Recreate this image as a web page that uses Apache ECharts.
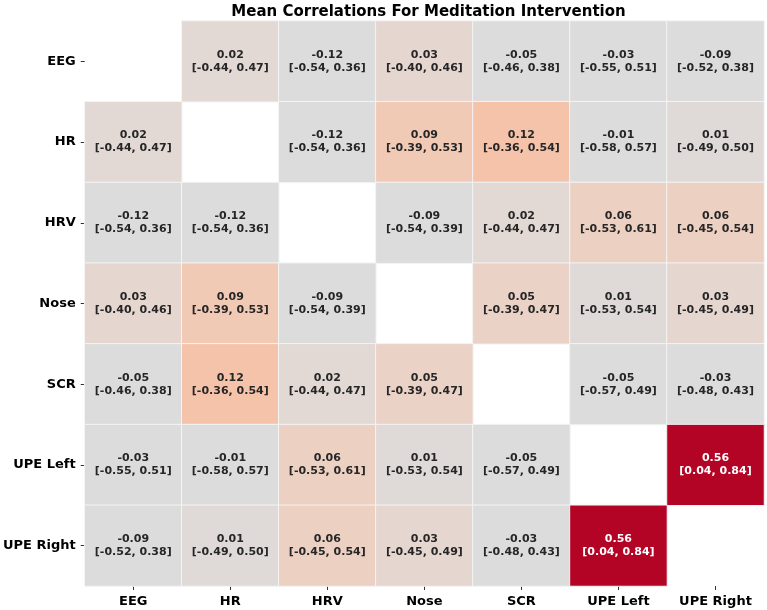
<!DOCTYPE html>
<html>
<head>
<meta charset="utf-8">
<script src="https://cdn.jsdelivr.net/npm/echarts@6/dist/echarts.min.js"></script>
<style>html,body{margin:0;padding:0;background:#fff;}#chart{width:767px;height:610px;}</style>
</head>
<body>
<div id="chart"></div>
<script>
var categories = ["EEG", "HR", "HRV", "Nose", "SCR", "UPE Left", "UPE Right"];
// mean correlations (null on diagonal)
var meanValues = [
  [null, 0.02, -0.12, 0.03, -0.05, -0.03, -0.09],
  [0.02, null, -0.12, 0.09, 0.12, -0.01, 0.01],
  [-0.12, -0.12, null, -0.09, 0.02, 0.06, 0.06],
  [0.03, 0.09, -0.09, null, 0.05, 0.01, 0.03],
  [-0.05, 0.12, 0.02, 0.05, null, -0.05, -0.03],
  [-0.03, -0.01, 0.06, 0.01, -0.05, null, 0.56],
  [-0.09, 0.01, 0.06, 0.03, -0.03, 0.56, null]
];
var ciLow = [
  [null, -0.44, -0.54, -0.40, -0.46, -0.55, -0.52],
  [-0.44, null, -0.54, -0.39, -0.36, -0.58, -0.49],
  [-0.54, -0.54, null, -0.54, -0.44, -0.53, -0.45],
  [-0.40, -0.39, -0.54, null, -0.39, -0.53, -0.45],
  [-0.46, -0.36, -0.44, -0.39, null, -0.57, -0.48],
  [-0.55, -0.58, -0.53, -0.53, -0.57, null, 0.04],
  [-0.52, -0.49, -0.45, -0.45, -0.48, 0.04, null]
];
var ciHigh = [
  [null, 0.47, 0.36, 0.46, 0.38, 0.51, 0.38],
  [0.47, null, 0.36, 0.53, 0.54, 0.57, 0.50],
  [0.36, 0.36, null, 0.39, 0.47, 0.61, 0.54],
  [0.46, 0.53, 0.39, null, 0.47, 0.54, 0.49],
  [0.38, 0.54, 0.47, 0.47, null, 0.49, 0.43],
  [0.51, 0.57, 0.61, 0.54, 0.49, null, 0.84],
  [0.38, 0.50, 0.54, 0.49, 0.43, 0.84, null]
];
var titleText = "Mean Correlations For Meditation Intervention";

var data = [];
for (var r = 0; r < categories.length; r++) {
  for (var c = 0; c < categories.length; c++) {
    var v = meanValues[r][c];
    if (v === null) continue;
    data.push({
      value: [c, r, v, ciLow[r][c], ciHigh[r][c]],
      label: { color: v > 0.35 ? '#ffffff' : '#262626' }
    });
  }
}

var chart = echarts.init(document.getElementById('chart'), null, {renderer: 'canvas'});
var font = 'DejaVu Sans';
chart.setOption({
  animation: false,
  backgroundColor: '#ffffff',
  title: {
    text: titleText,
    left: 423.5, textAlign: 'center', top: 0,
    textStyle: { fontFamily: font, fontWeight: 'bold', fontSize: 15, color: '#000' }
  },
  grid: { left: 83, top: 21, width: 681, height: 565 },
  xAxis: {
    type: 'category', data: categories,
    axisLine: { show: false },
    axisTick: { show: true, alignWithLabel: true, length: 4, lineStyle: { color: '#333' } },
    axisLabel: { margin: 9, fontFamily: font, fontWeight: 'bold', fontSize: 13, color: '#000' },
    splitLine: { show: false }
  },
  yAxis: {
    type: 'category', data: categories, inverse: true,
    axisLine: { show: false },
    axisTick: { show: true, alignWithLabel: true, length: 4, lineStyle: { color: '#333' } },
    axisLabel: { margin: 9, fontFamily: font, fontWeight: 'bold', fontSize: 13, color: '#000' },
    splitLine: { show: false }
  },
  visualMap: {
    show: false, type: 'continuous', dimension: 2,
    min: -0.12, max: 0.56,
    inRange: { color: [
      '#dcdcdd', '#dcdcdd', '#dcdcdd', '#dcdcdd',
      '#e8d4ca', '#f0ccb9', '#f4c3aa', '#f5b599', '#f5a688',
      '#f29777', '#eb8466', '#e37157', '#d95e48', '#cd433a',
      '#c1252f', '#b40426', '#b40426', '#b40426'
    ] }
  },
  series: [{
    type: 'heatmap',
    data: data,
    itemStyle: { borderColor: '#f4f4f4', borderWidth: 1 },
    label: {
      show: true,
      fontFamily: font, fontWeight: 'bold', fontSize: 11, lineHeight: 13,
      formatter: function (p) {
        var d = p.value;
        return d[2].toFixed(2) + '\n[' + d[3].toFixed(2) + ', ' + d[4].toFixed(2) + ']';
      }
    },
    emphasis: { disabled: true }
  }]
});
</script>
</body>
</html>
